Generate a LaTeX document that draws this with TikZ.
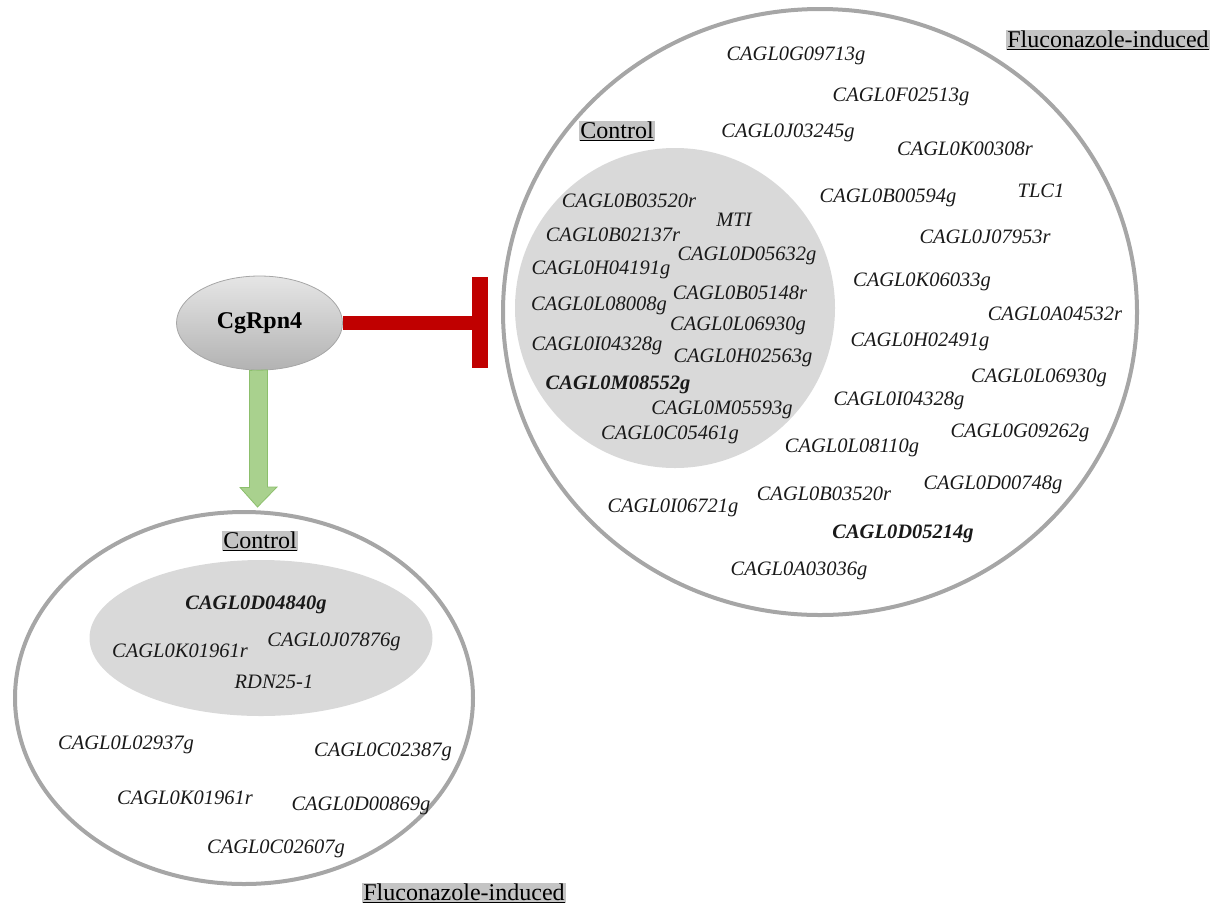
\documentclass[tikz,border=0pt]{standalone}
\usepackage{fontspec}
\setmainfont{Liberation Serif}
\usetikzlibrary{positioning,shapes.geometric,calc}
\definecolor{ringgray}{HTML}{A6A6A6}
\definecolor{innergray}{HTML}{D9D9D9}
\definecolor{labelgray}{HTML}{C4C4C4}
\definecolor{inhred}{HTML}{C00000}
\definecolor{actgreen}{HTML}{A9D18E}
\definecolor{actgreenline}{HTML}{8CBF6C}
\tikzset{
  gene/.style={font=\fontsize{20.5}{22}\selectfont\itshape, inner sep=0pt, text=black!90},
  bgene/.style={gene, font=\fontsize{20.5}{22}\selectfont\itshape\bfseries},
  tag/.style={font=\fontsize{24}{26}\selectfont, fill=labelgray, inner sep=1pt},
  ring/.style={draw=ringgray, line width=4pt},
}
\begin{document}
\begin{tikzpicture}[x=1pt,y=-1pt]
\useasboundingbox (0,0) rectangle (1220,906);

% right big circle
\node[ring, ellipse, minimum width=634, minimum height=606, inner sep=0pt] (bigR) at (820,312) {};
\node[circle, fill=innergray, minimum size=320, inner sep=0pt] (innR) at (675,308) {};

% bottom-left ellipse
\node[ring, ellipse, minimum width=458, minimum height=372, inner sep=0pt] (bigL) at (244,698) {};
\node[ellipse, fill=innergray, minimum width=343, minimum height=156, inner sep=0pt] (innL) at (261,638) {};

% CgRpn4 node
\node[ellipse, draw=ringgray, line width=0.8pt, top color=black!10, bottom color=black!30,
      minimum width=166, minimum height=94, inner sep=0pt,
      font=\fontsize{24}{26}\selectfont\bfseries] (cg) at (259.5,323) {CgRpn4};

% inhibition
\node[rectangle, fill=inhred, minimum width=16, minimum height=91, inner sep=0pt] (tbar) at (480,322) {};
\draw[inhred, line width=14pt] (cg.east) -- (cg.east -| tbar.west);

% activation arrow
\coordinate (atip) at (257.5,507);
\filldraw[fill=actgreen, draw=actgreenline, line width=0.8pt]
  ($(cg.south)+(-10,0)$) -- ++(0,117) -- ++(-9.5,0) -- (atip) -- ++(19.5,-20) -- ++(-9.5,0) -- ++(0,-117) -- cycle;

% labels
\node[tag] (ctrlR) at (617,131) {\underline{Control}};
\node[tag] (fluR) at (1108,40) {\underline{Fluconazole-induced}};
\node[tag] (ctrlL) at (260,541) {\underline{Control}};
\node[tag] (fluL) at (464,893) {\underline{Fluconazole-induced}};

% right outer genes
\node[gene] (r1) at (796,56) {CAGL0G09713g};
\node[gene] (r2) at (901,97) {CAGL0F02513g};
\node[gene] (r3) at (788,133) {CAGL0J03245g};
\node[gene] (r4) at (965,149) {CAGL0K00308r};
\node[gene] (r5) at (888,198) {CAGL0B00594g};
\node[gene] (r6) at (1041,191) {TLC1};
\node[gene] (r7) at (985,237) {CAGL0J07953r};
\node[gene] (r8) at (922,282) {CAGL0K06033g};
\node[gene] (r9) at (1055,314) {CAGL0A04532r};
\node[gene] (r10) at (920,342) {CAGL0H02491g};
\node[gene] (r11) at (1039,378) {CAGL0L06930g};
\node[gene] (r12) at (899,401) {CAGL0I04328g};
\node[gene] (r13) at (1020,433) {CAGL0G09262g};
\node[gene] (r14) at (852,448) {CAGL0L08110g};
\node[gene] (r15) at (993,485) {CAGL0D00748g};
\node[gene] (r16) at (824,494) {CAGL0B03520r};
\node[gene] (r17) at (673,508) {CAGL0I06721g};
\node[bgene] (r18) at (903,534) {CAGL0D05214g};
\node[gene] (r19) at (799,571) {CAGL0A03036g};

% right inner genes
\node[gene] (c1) at (629,201) {CAGL0B03520r};
\node[gene] (c2) at (734,220) {MTI};
\node[gene] (c3) at (613,235) {CAGL0B02137r};
\node[gene] (c4) at (747,256) {CAGL0D05632g};
\node[gene] (c5) at (601,270) {CAGL0H04191g};
\node[gene] (c6) at (740,293) {CAGL0B05148r};
\node[gene] (c7) at (599,306) {CAGL0L08008g};
\node[gene] (c8) at (738,326) {CAGL0L06930g};
\node[gene] (c9) at (597,346) {CAGL0I04328g};
\node[gene] (c10) at (743,358) {CAGL0H02563g};
\node[bgene] (c11) at (618,385) {CAGL0M08552g};
\node[gene] (c12) at (722,410) {CAGL0M05593g};
\node[gene] (c13) at (670,435) {CAGL0C05461g};

% left inner genes
\node[bgene] (l1) at (256,605) {CAGL0D04840g};
\node[gene] (l2) at (180,651) {CAGL0K01961r};
\node[gene] (l3) at (334,642) {CAGL0J07876g};
\node[gene] (l4) at (274,682) {RDN25-1};

% left outer genes
\node[gene] (o1) at (126,745) {CAGL0L02937g};
\node[gene] (o2) at (383,752) {CAGL0C02387g};
\node[gene] (o3) at (185,798) {CAGL0K01961r};
\node[gene] (o4) at (361,806) {CAGL0D00869g};
\node[gene] (o5) at (276,849) {CAGL0C02607g};
\end{tikzpicture}
\end{document}
